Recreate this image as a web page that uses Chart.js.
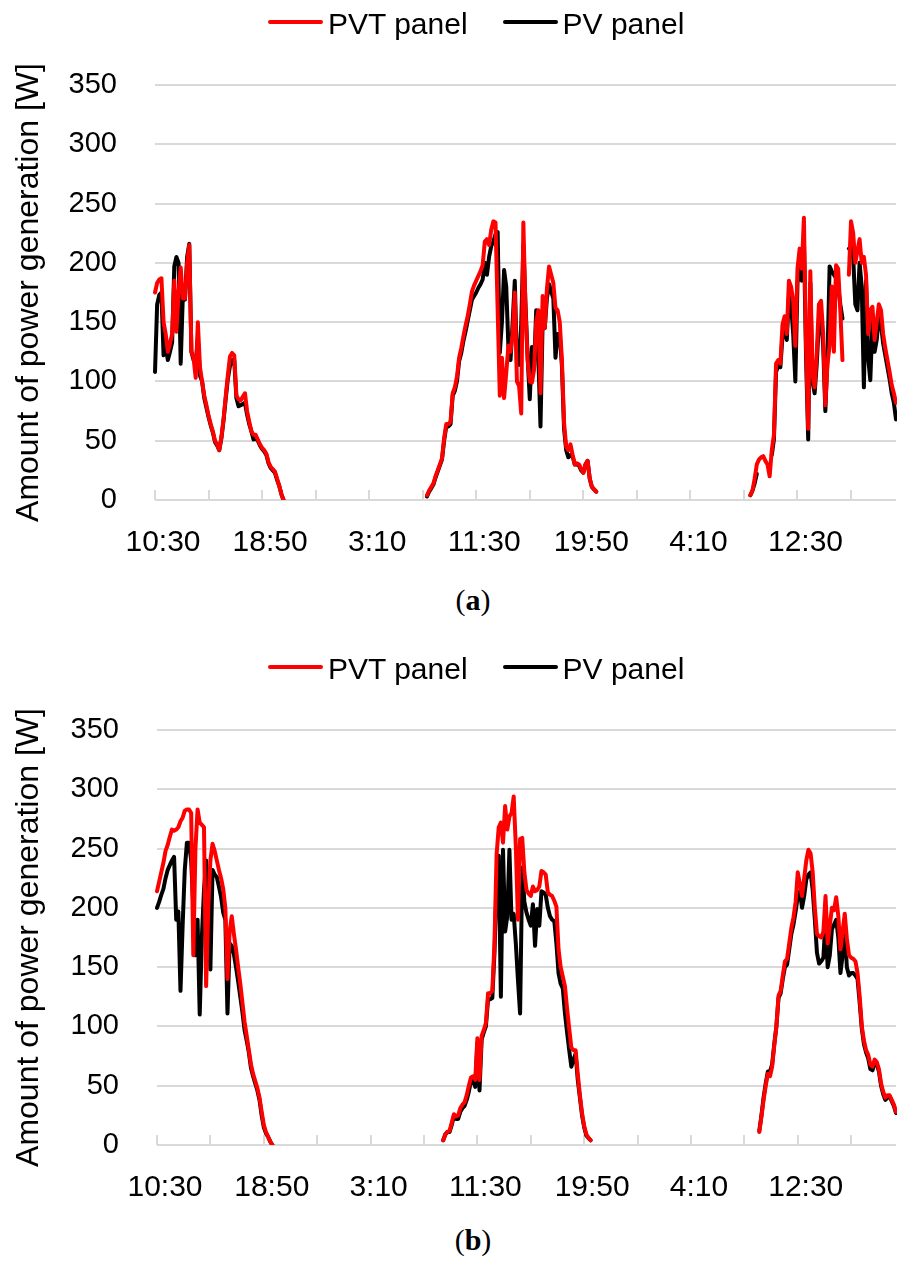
<!DOCTYPE html>
<html>
<head>
<meta charset="utf-8">
<script src="https://cdn.jsdelivr.net/npm/chart.js@4.4.1/dist/chart.umd.min.js"></script>
<style>
  body { margin: 0; background: #fff; font-family: "Liberation Sans", Arial, sans-serif; }
  .fig { position: absolute; left: 0; width: 897px; height: 640px; }
  .fig canvas { position: absolute; left: 0; top: 0; }
  .legend { position: absolute; left: 268px; top: 7px; display: flex; align-items: flex-start; font-size: 30px; line-height: 34px; color: #000; }
  .legend .item { display: flex; align-items: flex-start; margin-right: 35px; }
  .legend .swatch { width: 55px; height: 4px; margin-top: 13px; margin-right: 5px; border-radius: 2px; }
  .caption { position: absolute; left: 0; width: 946px; top: 583px; text-align: center; font-family: "Liberation Serif", serif; font-size: 30px; line-height: 34px; color: #000; }
</style>
</head>
<body>
<div class="fig" id="figA" style="top:0">
  <canvas id="chartA" width="897" height="570"></canvas>
  <div class="legend" id="legendA"></div>
  <div class="caption">(<b>a</b>)</div>
</div>
<div class="fig" id="figB" style="top:645px">
  <canvas id="chartB" width="897" height="570"></canvas>
  <div class="legend" id="legendB"></div>
  <div class="caption" style="top:578px">(<b>b</b>)</div>
</div>
<script>
// 10-minute samples starting at 10:30, night hours left empty
const stepCount = 347;
const startMinutes = 10 * 60 + 30;
const labelEvery = 50;
const tickEvery = 25;
const tickLabels = ['10:30', '18:50', '3:10', '11:30', '19:50', '4:10', '12:30'];

// (a) day segments: first index of each
const startsA = [0, 127, 278];
const pvtA_day1 = [175,183,186,187,150,140,125,132,140,185,142,175,196,170,170,200,215,125,120,103,150,112,100,88,80,71,64,58,50,47,42,53,68,87,105,121,124,122,88,85,84,87,90,75,66,58,55,55,51,47,44,42,39,32,28,26,24,18,12,5,0];
const pvA_day1 = [108,165,173,175,122,129,118,125,133,197,205,200,115,172,169,205,216,125,118,115,136,105,100,86,78,70,63,57,49,46,42,52,67,85,102,113,118,118,86,79,80,81,82,72,64,58,51,52,50,46,43,41,38,31,27,25,23,17,12,5,0];
const pvtA_day2 = [4,8,11,14,20,25,30,35,52,64,64,66,90,95,104,120,128,138,147,155,165,176,181,185,189,193,198,218,220,215,228,235,234,160,88,120,86,107,130,125,140,175,100,96,73,234,160,118,100,99,110,150,160,90,172,145,178,197,190,183,162,160,150,118,65,45,42,47,38,30,31,30,26,23,30,33,18,11,9,7];
const pvA_day2 = [3,7,10,13,19,24,29,34,50,62,62,64,88,92,100,117,124,134,142,151,160,169,172,175,179,182,186,200,190,205,214,218,224,226,124,150,194,180,130,118,150,185,115,114,148,215,165,120,85,129,112,160,120,62,150,145,170,182,176,170,120,140,140,113,60,42,36,38,37,30,30,29,25,23,30,33,18,11,9,7];
const pvtA_day3 = [4,8,18,30,34,36,37,33,30,20,42,55,115,118,115,148,155,140,185,180,168,130,195,212,195,238,130,60,193,105,95,125,165,168,140,80,115,130,180,125,198,195,160,118,null,null,190,235,225,200,210,220,200,205,190,140,160,163,135,150,165,160,140,128,118,108,97,90,82];
const pvA_day3 = [4,8,14,22,null,null,null,null,null,null,38,51,108,113,112,138,144,135,172,165,140,100,183,197,185,220,120,51,183,100,90,115,150,156,130,75,120,197,193,190,187,180,165,153,null,null,212,213,205,165,160,200,180,95,185,120,101,150,125,135,155,148,132,122,112,102,90,82,68];

// (b)
const startsB = [0, 134, 282];
const pvtB_day1 = [214,222,230,238,248,253,260,266,265,266,268,273,276,282,283,283,280,160,250,283,272,270,268,134,200,240,254,248,240,232,225,216,200,140,180,193,178,165,150,136,120,104,92,80,68,60,54,48,40,28,17,11,7,3,0];
const pvB_day1 = [200,205,211,216,225,232,236,240,243,190,197,130,185,232,255,255,240,200,160,190,110,175,215,240,190,148,232,228,226,218,209,196,190,111,170,168,161,150,138,125,112,97,88,78,65,58,52,46,38,25,15,10,7,3,0];
const pvtB_day2 = [4,9,11,12,19,26,24,25,31,34,36,42,50,57,58,55,90,55,92,97,103,128,128,130,170,245,268,272,255,286,266,277,280,294,252,190,258,259,230,215,212,210,218,214,215,218,231,230,228,213,211,210,206,201,165,150,142,134,115,98,82,80,80,60,42,27,16,9,6,4];
const pvB_day2 = [4,9,11,11,17,24,22,22,28,31,33,38,45,54,55,49,86,46,89,95,100,123,123,124,162,220,244,125,249,180,193,249,190,195,170,139,111,234,205,196,190,185,203,168,199,185,214,213,211,200,193,190,189,170,145,136,132,111,95,80,66,72,77,55,40,25,15,8,6,4];
const pvtB_day3 = [11,24,38,50,60,58,66,84,100,126,130,143,155,157,170,183,192,205,230,220,210,225,240,249,246,230,200,178,176,175,180,210,170,185,200,198,209,193,165,180,195,174,160,158,157,155,145,125,100,88,80,76,68,66,72,70,64,52,45,40,42,42,38,34,28];
const pvB_day3 = [12,25,40,52,62,62,68,85,100,124,128,140,150,152,165,178,186,197,210,214,200,210,224,228,230,215,190,162,153,155,158,190,150,160,182,186,190,175,145,160,182,150,143,145,145,143,140,120,98,85,78,73,64,63,70,68,62,50,43,38,40,41,37,33,27];

const categories = [];
for (let i = 0; i < stepCount; i++) {
    const m = (startMinutes + i * 10) % 1440;
    categories.push(Math.floor(m / 60) + ':' + String(m % 60).padStart(2, '0'));
}

function buildSeries(days, starts) {
    const out = new Array(stepCount).fill(null);
    days.forEach((day, k) => day.forEach((v, j) => { out[starts[k] + j] = v; }));
    return out;
}

const gridColor = '#d9d9d9';
const fontFamily = '"Liberation Sans", Arial, sans-serif';

// short tick marks pointing up into the plot, like the original
const innerTicks = {
    id: 'innerTicks',
    beforeDatasetsDraw(chart) {
        const { ctx, chartArea, scales } = chart;
        ctx.save();
        ctx.strokeStyle = gridColor;
        ctx.lineWidth = 2;
        for (let i = 0; i < stepCount; i += tickEvery) {
            const px = Math.round(scales.x.getPixelForValue(i));
            ctx.beginPath();
            ctx.moveTo(px, chartArea.bottom);
            ctx.lineTo(px, chartArea.bottom - 10);
            ctx.stroke();
        }
        ctx.restore();
    }
};

function makeChart(canvasId, legendId, pvtSeries, pvSeries, axisWidth) {
    const chart = new Chart(document.getElementById(canvasId).getContext('2d'), {
        type: 'line',
        data: {
            labels: categories,
            datasets: [
                { label: 'PVT panel', data: pvtSeries, borderColor: '#ff0000', backgroundColor: '#ff0000' },
                { label: 'PV panel', data: pvSeries, borderColor: '#000000', backgroundColor: '#000000' }
            ]
        },
        options: {
            responsive: false,
            animation: false,
            spanGaps: false,
            layout: { padding: { top: 85, right: 1, left: 0, bottom: 0 } },
            elements: {
                point: { radius: 0 },
                line: { borderWidth: 4, tension: 0, borderJoinStyle: 'round', borderCapStyle: 'round' }
            },
            plugins: { legend: { display: false }, tooltip: { enabled: false } },
            scales: {
                x: {
                    afterFit: (s) => { s.height = 70; },
                    grid: { display: false, drawTicks: false },
                    border: { display: false },
                    ticks: {
                        autoSkip: false,
                        maxRotation: 0,
                        minRotation: 0,
                        // padding would also widen the right margin, so the gap comes from lineHeight
                        padding: 0,
                        labelOffset: 8,
                        color: '#000',
                        font: { family: fontFamily, size: 30, lineHeight: '85px' },
                        callback: function (value, index) {
                            const lab = this.getLabelForValue(value);
                            return index % labelEvery === 0 && tickLabels.includes(lab) ? lab : '';
                        }
                    }
                },
                y: {
                    min: 0,
                    max: 350,
                    afterFit: (s) => { s.width = axisWidth; },
                    grid: { color: gridColor, lineWidth: 2, drawTicks: false },
                    border: { display: false },
                    ticks: { stepSize: 50, padding: 38, color: '#000', font: { family: fontFamily, size: 29 } },
                    title: {
                        display: true,
                        text: 'Amount of power generation [W]',
                        color: '#000',
                        font: { family: fontFamily, size: 32 },
                        padding: { top: 10, bottom: 0 }
                    }
                }
            }
        },
        plugins: [innerTicks]
    });

    const legend = document.getElementById(legendId);
    chart.data.datasets.forEach((ds) => {
        const item = document.createElement('div');
        item.className = 'item';
        const sw = document.createElement('span');
        sw.className = 'swatch';
        sw.style.background = ds.borderColor;
        const txt = document.createElement('span');
        txt.textContent = ds.label;
        item.appendChild(sw);
        item.appendChild(txt);
        legend.appendChild(item);
    });
    return chart;
}

makeChart('chartA', 'legendA',
    buildSeries([pvtA_day1, pvtA_day2, pvtA_day3], startsA),
    buildSeries([pvA_day1, pvA_day2, pvA_day3], startsA), 155);
makeChart('chartB', 'legendB',
    buildSeries([pvtB_day1, pvtB_day2, pvtB_day3], startsB),
    buildSeries([pvB_day1, pvB_day2, pvB_day3], startsB), 157);
</script>
</body>
</html>
